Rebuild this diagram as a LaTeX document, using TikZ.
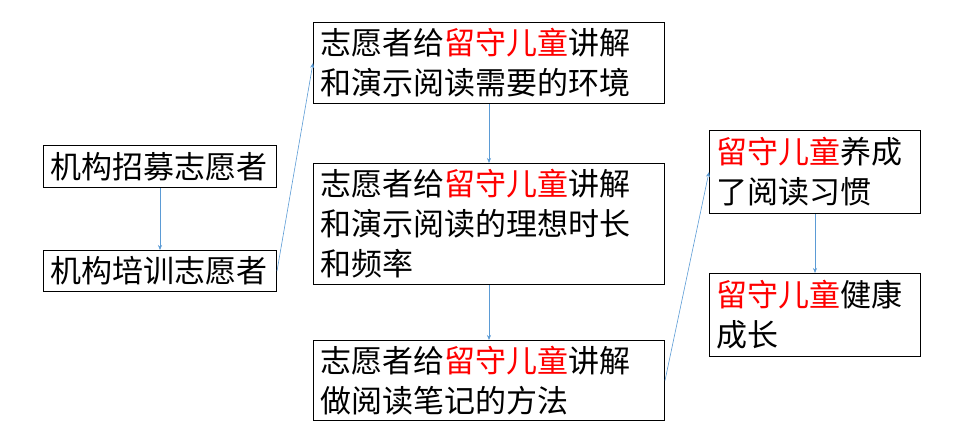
\documentclass[tikz,border=0pt]{standalone}
\usepackage{fontspec}
\setmainfont{Noto Sans CJK SC}
\usetikzlibrary{arrows.meta}
\definecolor{lnk}{HTML}{5B9BD5}
\begin{document}
\begin{tikzpicture}[x=1pt,y=-1pt,
  box/.style={draw=black,line width=1pt,anchor=north west,align=left,inner xsep=7pt,inner ysep=0pt,font=\fontsize{31}{40}\selectfont},
  conn/.style={draw=lnk,line width=0.6pt,-{Stealth[length=5pt,width=4pt]}}]
\useasboundingbox (0,0) rectangle (975,442);
\newcommand{\rc}[1]{\textcolor{red}{#1}}
\node[box,minimum width=233pt,minimum height=42pt,text width=219pt] (a) at (43,145) {机构招募志愿者};
\node[box,minimum width=233pt,minimum height=41pt,text width=219pt] (b) at (43,250) {机构培训志愿者};
\node[box,minimum width=351pt,minimum height=81pt,text width=337pt] (c) at (313,22) {志愿者给\rc{留守儿童}讲解\\和演示阅读需要的环境};
\node[box,minimum width=351pt,minimum height=121pt,text width=337pt] (d) at (313,163) {志愿者给\rc{留守儿童}讲解\\和演示阅读的理想时长\\和频率};
\node[box,minimum width=351pt,minimum height=80pt,text width=337pt] (e) at (313,340) {志愿者给\rc{留守儿童}讲解\\做阅读笔记的方法};
\node[box,minimum width=211pt,minimum height=83pt,text width=197pt] (f) at (709,130) {\rc{留守儿童}养成\\了阅读习惯};
\node[box,minimum width=211pt,minimum height=83pt,text width=197pt] (g) at (709,273) {\rc{留守儿童}健康\\成长};
\draw[conn] (a.south) -- (b.north);
\draw[conn] (b.east) -- (c.west);
\draw[conn] (c.south) -- (d.north);
\draw[conn] (d.south) -- (e.north);
\draw[conn] (e.east) -- (f.west);
\draw[conn] (f.south) -- (g.north);
\end{tikzpicture}
\end{document}
